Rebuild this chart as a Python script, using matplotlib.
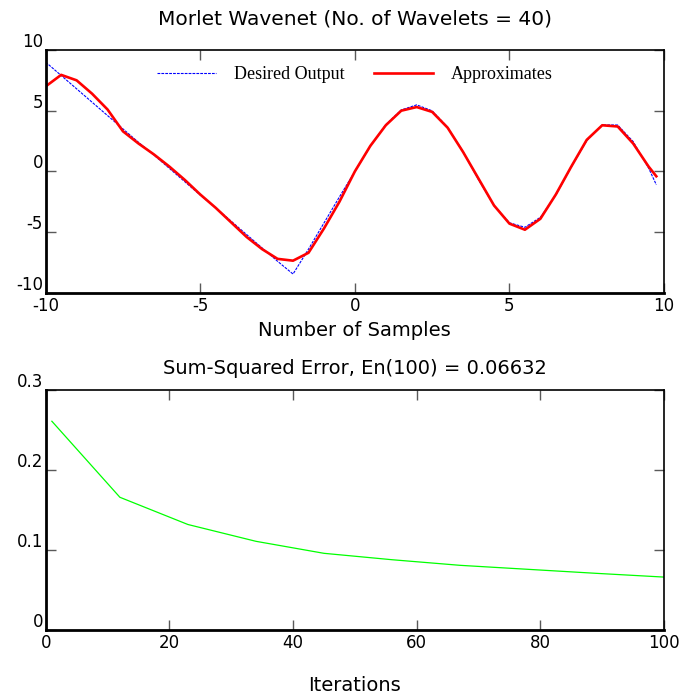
import matplotlib
matplotlib.use('Agg')
import matplotlib.pyplot as plt
import matplotlib.transforms as mtransforms

plt.rcParams['font.family'] = ['DejaVu Sans']
plt.rcParams['axes.unicode_minus'] = False

# training samples
x_samples = [-10, -9.5, -9, -8.5, -8, -7.5, -7, -6.5, -6, -5.5, -5, -4.5, -4,
             -3.5, -3, -2.5, -2, -1.5, -1, -0.5, 0, 0.5, 1, 1.5, 2, 2.5, 3,
             3.5, 4, 4.5, 5, 5.5, 6, 6.5, 7, 7.5, 8, 8.5, 9, 9.5, 9.75]
desired = [9.0, 7.9, 6.8, 5.7, 4.6, 3.5, 2.4, 1.35, 0.25, -0.85, -1.95, -3.0,
           -4.1, -5.2, -6.3, -7.4, -8.45, -6.4, -4.25, -2.1, 0.0, 2.07, 3.85,
           5.06, 5.48, 4.99, 3.64, 1.62, -0.69, -2.81, -4.23, -4.6, -3.78,
           -1.95, 0.37, 2.53, 3.83, 3.82, 2.46, 0.28, -1.1]
approx = [7.0, 7.95, 7.5, 6.4, 5.1, 3.3, 2.3, 1.4, 0.4, -0.7, -1.9, -3.0,
          -4.2, -5.4, -6.4, -7.2, -7.35, -6.7, -4.7, -2.5, 0.0, 2.1, 3.8,
          5.0, 5.3, 4.9, 3.6, 1.6, -0.6, -2.8, -4.3, -4.8, -3.9, -1.9, 0.4,
          2.6, 3.8, 3.7, 2.3, 0.4, -0.4]

iterations = [1, 12, 23, 34, 45, 56, 67, 78, 89, 100]
sse = [0.261, 0.166, 0.132, 0.111, 0.096, 0.088, 0.081, 0.076, 0.071, 0.0663]

x_ticks_top = [-10, -5, 0, 5, 10]
y_ticks_top = [-10, -5, 0, 5, 10]
x_ticks_bot = [0, 20, 40, 60, 80, 100]
y_ticks_bot = [0, 0.1, 0.2, 0.3]
y_labels_bot = ['0', '0.1', '0.2', '0.3']

fig = plt.figure(figsize=(6.86, 6.94), dpi=100)
ax1 = fig.add_axes([0.0666, 0.578, 0.9014, 0.350])
ax2 = fig.add_axes([0.0666, 0.092, 0.9014, 0.346])


def style_axes(ax):
    for side in ['left', 'bottom']:
        ax.spines[side].set_linewidth(2.0)
    for side in ['top', 'right']:
        ax.spines[side].set_linewidth(1.2)
    ax.tick_params(direction='in', length=7, width=1, color='0.35',
                   top=True, right=True, labelsize=12, pad=3)
    ax.tick_params(axis='y', pad=2)
    # MATLAB-like: y labels sit a bit above their ticks
    off = mtransforms.ScaledTranslation(0, 10 / 100, fig.dpi_scale_trans)
    for lbl in ax.get_yticklabels():
        lbl.set_transform(lbl.get_transform() + off)


# top: approximation
ax1.plot(x_samples, desired, color='blue', lw=0.8, ls=(0, (2.5, 1)),
         label='Desired Output')
ax1.plot(x_samples, approx, color='red', lw=1.9, label='Approximates')
ax1.set_xlim(-10, 10)
ax1.set_ylim(-10, 10)
ax1.set_xticks(x_ticks_top)
ax1.set_yticks(y_ticks_top)
style_axes(ax1)
ax1.set_title('Morlet Wavenet (No. of Wavelets = 40)', fontsize=14.5, pad=18)
ax1.set_xlabel('Number of Samples', fontsize=14, labelpad=4)
ax1.legend(loc='upper center', ncol=2, frameon=False, handlelength=3.3,
           handletextpad=1.0, columnspacing=1.6, borderaxespad=0.5,
           prop={'family': 'Liberation Serif', 'size': 13})

# bottom: error curve
ax2.plot(iterations, sse, color=(0, 1, 0), lw=0.9)
ax2.set_xlim(0, 100)
ax2.set_ylim(0, 0.3)
ax2.set_xticks(x_ticks_bot)
ax2.set_yticks(y_ticks_bot)
ax2.set_yticklabels(y_labels_bot)
style_axes(ax2)
ax2.set_title('Sum-Squared Error, En(100) = 0.06632', fontsize=14, pad=11.5)
ax2.set_xlabel('Iterations', fontsize=14, labelpad=17)

fig.savefig('out.png', dpi=100)
